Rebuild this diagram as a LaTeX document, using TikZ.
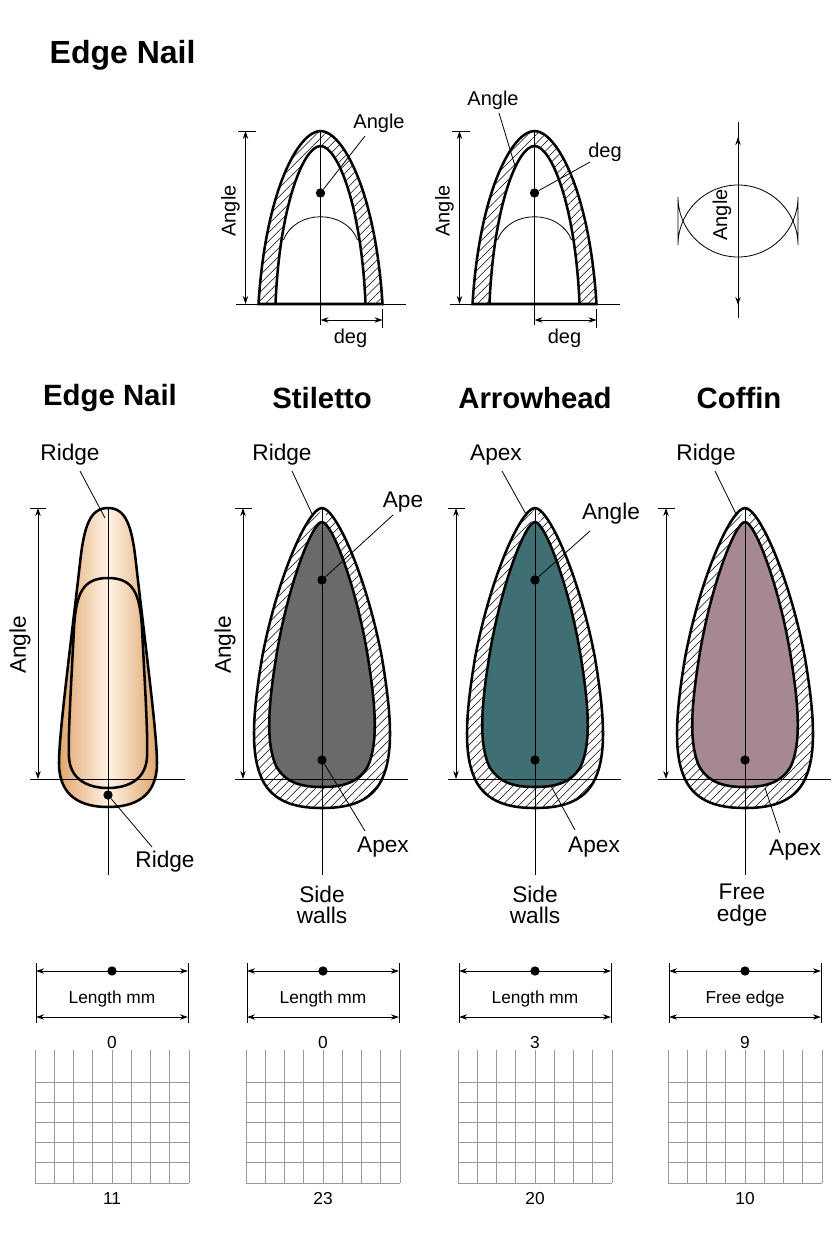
\documentclass[tikz,border=0pt]{standalone}
\usepackage{fontspec}
\setmainfont{Liberation Sans}
\usetikzlibrary{arrows.meta,patterns.meta}
\definecolor{teal1}{HTML}{3F6E73}
\definecolor{mauve}{HTML}{A58894}
\definecolor{greyn}{HTML}{6A6A6A}
\begin{document}
\begin{tikzpicture}[x=0.75pt,y=-0.75pt,
  thin line/.style={line width=0.6pt},
  thick line/.style={line width=1.9pt},
  dim/.style={line width=0.7pt,{Stealth[length=6pt,width=4pt]}-{Stealth[length=6pt,width=4pt]}},
  hatch/.style={pattern={Lines[angle=45,distance=4.5pt,line width=0.4pt]}},
  lab/.style={font=\fontsize{17}{19}\selectfont},
  slab/.style={font=\fontsize{15}{17}\selectfont},
  ttl/.style={font=\bfseries\fontsize{22}{26}\selectfont},
  dot/.style={circle,fill=black,inner sep=0pt,minimum size=7pt},
  num/.style={font=\fontsize{13}{15}\selectfont},
  grd/.style={draw=black!40,line width=0.7pt}]
\useasboundingbox (0,0) rectangle (832,1248);
\fill[white] (0,0) rectangle (832,1248);
\node[font=\bfseries\fontsize{24}{28}\selectfont,anchor=west] (t0) at (45,55) {Edge Nail};

% ---------- top row arches
\foreach \cx/\nm in {320.5/a,534.5/b}{
  \begin{scope}[shift={(\cx,131)}]
    \fill[hatch] (-62,173) .. controls (-55,60) and (-22,0) .. (0,0) .. controls (22,0) and (55,60) .. (62,173) -- cycle;
    \fill[white] (-45,173) .. controls (-41,75) and (-17,15) .. (0,15) .. controls (17,15) and (41,75) .. (45,173) -- cycle;
    \draw[thick line] (-62,173) .. controls (-55,60) and (-22,0) .. (0,0) .. controls (22,0) and (55,60) .. (62,173) -- cycle;
    \draw[thick line] (-45,173) .. controls (-41,75) and (-17,15) .. (0,15) .. controls (17,15) and (41,75) .. (45,173);
    \draw[thin line] (-37,109) .. controls (-25,78) and (25,78) .. (37,109);
    \draw[thin line] (0,0) -- (0,194);
    \draw[thin line] (-85,173) -- (85,173);
    \node[dot] (d\nm) at (0,62) {};
    \draw[thin line] (-83,0) -- (-65,0);
    \draw[dim] (-75,0) -- (-75,173);
    \node[slab,rotate=90] at (-90,80) {Angle};
    \draw[thin line] (62,178) -- (62,197);
    \draw[dim] (0,189) -- (62,189);
    \node[slab] at (30,207) {deg};
  \end{scope}}
\node[slab] (la) at (379,123) {Angle};
\draw[thin line] (da) -- (365,136);
\node[slab] (lb) at (605,152) {deg};
\draw[thin line] (db) -- (590,162);
\node[slab] (lc) at (493,100) {Angle};
\draw[thin line] (499,113) -- (515,166);

\draw[thin line] (738,137) -- (738,137) (678,197) arc (180:0:60) -- (798,245) arc (0:-180:60) -- cycle;
\draw[thin line] (738,122) -- (738,318);
\draw[dim] (738,137) -- (738,305);
\node[slab,rotate=90] at (722,215) {Angle};

% ---------- titles
\node[ttl] at (110,398) {Edge Nail};
\node[ttl] at (322,398) {Stiletto};
\node[ttl] at (535,398) {Arrowhead};
\node[ttl] at (739,398) {Coffin};

% ---------- Edge nail (copper)
\begin{scope}[shift={(108,508)}]
  \def\outer{(0,0) .. controls (18,0) and (24,18) .. (28,55) .. controls (37,135) and (49,225) .. (49,255) .. controls (49,290) and (25,299) .. (0,299) .. controls (-25,299) and (-49,290) .. (-49,255) .. controls (-49,225) and (-37,135) .. (-28,55) .. controls (-24,18) and (-18,0) .. (0,0) -- cycle}
  \shade[left color=brown!70!orange!70,right color=brown!70!orange!70,middle color=orange!10] \outer;
  \draw[thick line] \outer;
  \draw[thick line] (0,70) .. controls (25,70) and (32,85) .. (34,120) .. controls (37,180) and (40,225) .. (39,250) .. controls (37,275) and (15,280) .. (0,280) .. controls (-15,280) and (-37,275) .. (-39,250) .. controls (-40,225) and (-37,180) .. (-34,120) .. controls (-32,85) and (-25,70) .. (0,70) -- cycle;
  \draw[thin line] (0,0) -- (0,367);
  \draw[thin line] (-78,271) -- (77,271);
  \node[dot] (e1) at (0,287) {};
  \draw[thin line] (-78,0) -- (-62,0);
  \draw[dim] (-70,0) -- (-70,271);
  \node[lab,rotate=90] at (-88,137) {Angle};
\end{scope}
\node[lab] at (70,455) {Ridge};
\draw[thin line] (80,471) -- (105,518);
\node[lab] at (165,862) {Ridge};
\draw[thin line] (e1) -- (152,847);

% ---------- hatched nails
\def\outerS{(0,0) .. controls (14,0) and (45,70) .. (60,150) .. controls (70,210) and (72,250) .. (58,275) .. controls (45,297) and (20,300) .. (0,300) .. controls (-20,300) and (-45,297) .. (-58,275) .. controls (-72,250) and (-70,210) .. (-60,150) .. controls (-45,70) and (-14,0) .. (0,0) -- cycle}
\def\innerS{(0,14) .. controls (10,14) and (35,80) .. (46,150) .. controls (54,200) and (56,235) .. (46,258) .. controls (36,276) and (18,279) .. (0,279) .. controls (-18,279) and (-36,276) .. (-46,258) .. controls (-56,235) and (-54,200) .. (-46,150) .. controls (-35,80) and (-10,14) .. (0,14) -- cycle}
\foreach \cx/\col/\nm in {322/greyn/s,535/teal1/a,745/mauve/c}{
  \begin{scope}[shift={(\cx,508)}]
    \fill[hatch] \outerS;
    \fill[white] (0,0) -- (-6,12) -- (0,16) -- (6,12) -- cycle;
    \fill[\col] \innerS;
    \draw[thick line] \outerS;
    \draw[thick line] \innerS;
    \draw[thin line] (0,0) -- (0,367);
    \draw[thin line] (-87,271) -- (86,271);
    \draw[thin line] (-87,0) -- (-70,0);
    \draw[dim] (-79,0) -- (-79,271);
    \node[dot] (\nm2) at (0,252) {};
  \end{scope}}
\node[dot] (s1) at (322,580) {};
\node[dot] (a1) at (535,580) {};
\node[lab,rotate=90] at (225,645) {Angle};
% Stiletto labels
\node[lab] at (282,455) {Ridge};
\draw[thin line] (292,471) -- (313,516);
\node[lab] at (403,502) {Ape};
\draw[thin line] (s1) -- (393,515);
\node[lab] at (383,847) {Apex};
\draw[thin line] (s2) -- (365,831);
\node[lab,align=center] at (322,905) {Side\\[-3pt]walls};
% Arrowhead labels
\node[lab] at (496,455) {Apex};
\draw[thin line] (502,471) -- (527,516);
\node[lab] at (611,514) {Angle};
\draw[thin line] (a1) -- (590,531);
\node[lab] at (594,847) {Apex};
\draw[thin line] (551,786) -- (575,830);
\node[lab,align=center] at (535,905) {Side\\[-3pt]walls};
% Coffin labels
\node[lab] at (706,455) {Ridge};
\draw[thin line] (715,471) -- (737,516);
\node[lab] at (795,850) {Apex};
\draw[thin line] (765,788) -- (780,833);
\node[lab,align=center] at (742,905) {Free\\[-3pt]edge};

% ---------- bottom rulers and grids
\foreach \cx/\txt/\na/\nb in {112/Length mm/0/11,323/Length mm/0/23,535/Length mm/3/20,745/Free edge/9/10}{
  \begin{scope}[shift={(\cx,0)}]
    \draw[thin line] (-76,963) -- (-76,1023) (76,963) -- (76,1023);
    \draw[dim] (-76,971) -- (76,971);
    \draw[dim] (-76,1017) -- (76,1017);
    \node[dot] at (0,971) {};
    \node[num] at (0,999) {\txt};
    \node[num] at (0,1043) {\na};
    \node[num] at (0,1199) {\nb};
    \foreach \i in {0,...,8} \draw[grd] ({-77+\i*19.25},1050) -- ({-77+\i*19.25},1183);
    \foreach \y in {1082,1102,1122,1142,1162,1183} \draw[grd] (-77,\y) -- (77,\y);
  \end{scope}}
\end{tikzpicture}
\end{document}
